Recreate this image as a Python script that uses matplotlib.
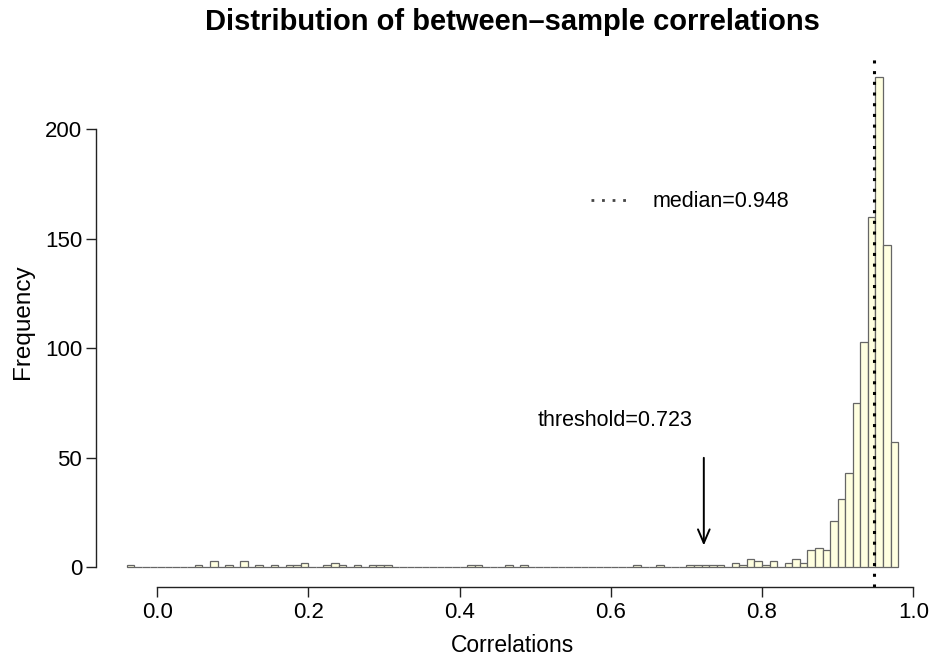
import numpy as np
import matplotlib
matplotlib.use("Agg")
import matplotlib.pyplot as plt
from matplotlib.lines import Line2D

plt.rcParams['font.family'] = ['Liberation Sans', 'DejaVu Sans']

# ---- data (bin width 0.01) ----
bin_lo, bin_hi, bin_w = -0.04, 0.98, 0.01
nonzero_bin_starts = [-0.04, 0.05, 0.07, 0.09, 0.11, 0.13, 0.15, 0.17, 0.18, 0.19,
                      0.22, 0.23, 0.24, 0.26, 0.28, 0.29, 0.30, 0.41, 0.42, 0.46,
                      0.48, 0.63, 0.66, 0.70, 0.71, 0.72, 0.73, 0.74, 0.76, 0.77,
                      0.78, 0.79, 0.80, 0.81, 0.83, 0.84, 0.85, 0.86, 0.87, 0.88,
                      0.89, 0.90, 0.91, 0.92, 0.93, 0.94, 0.95, 0.96, 0.97]
nonzero_counts = [1, 1, 3, 1, 3, 1, 1, 1, 1, 2,
                  1, 2, 1, 1, 1, 1, 1, 1, 1, 1,
                  1, 1, 1, 1, 1, 1, 1, 1, 2, 1,
                  4, 3, 1, 3, 2, 4, 2, 8, 9, 8,
                  21, 31, 43, 75, 103, 160, 224, 147, 57]
median_val = 0.948
threshold_val = 0.723
x_ticks = [0.0, 0.2, 0.4, 0.6, 0.8, 1.0]
x_tick_labels = ["0.0", "0.2", "0.4", "0.6", "0.8", "1.0"]
y_ticks = [0, 50, 100, 150, 200]

# full histogram table
n_bins = int(round((bin_hi - bin_lo) / bin_w))
edges = bin_lo + bin_w * np.arange(n_bins + 1)
counts = np.zeros(n_bins)
for s, c in zip(nonzero_bin_starts, nonzero_counts):
    counts[int(round((s - bin_lo) / bin_w))] = c

fig = plt.figure(figsize=(9.32, 6.61), dpi=100)
ax = fig.add_axes([96/932, 1 - 587/661, (929 - 96)/932, (587 - 57)/661])

ax.bar(edges[:-1], counts, width=bin_w, align='edge',
       color='#FFFFE0', edgecolor='#666666', linewidth=0.9)

span = bin_hi - bin_lo
ax.set_xlim(bin_lo - 0.04 * span, bin_hi + 0.04 * span)
ymax = counts.max()
ax.set_ylim(-0.04 * ymax, ymax * 1.04)

# median line
dot_style = (0, (1, 2.5))
ax.axvline(median_val, color='black', lw=2.2, linestyle=dot_style)

# legend
h = Line2D([], [], color='#444444', lw=2.0, linestyle=(0, (1, 2.8)))
leg = ax.legend([h], [f"median={median_val}"], loc='center left',
                bbox_to_anchor=(0.594, 0.727), frameon=False, fontsize=15.5,
                handlelength=1.9, handletextpad=0.95, borderpad=0, borderaxespad=0)

# threshold annotation
ax.annotate('', xy=(threshold_val, 10), xytext=(threshold_val, 50),
            arrowprops=dict(arrowstyle='->,head_length=0.7,head_width=0.3',
                            lw=1.4, color='black', mutation_scale=14,
                            shrinkA=0, shrinkB=0))
ax.text(0.606, 67, f"threshold={threshold_val}", ha='center', va='center', fontsize=15.5)

# R-style axes
for s in ['top', 'right']:
    ax.spines[s].set_visible(False)
ax.spines['left'].set_bounds(0, 200)
ax.spines['bottom'].set_bounds(0, 1)
for s in ['left', 'bottom']:
    ax.spines[s].set_linewidth(1.0)
    ax.spines[s].set_color('#222222')
ax.set_xticks(x_ticks)
ax.set_xticklabels(x_tick_labels)
ax.set_yticks(y_ticks)
ax.tick_params(axis='both', labelsize=16, length=7, width=1.0, color='#222222')
ax.tick_params(axis='y', pad=3)
ax.tick_params(axis='x', pad=4)

ax.set_xlabel("Correlations", fontsize=16.5, labelpad=8)
ax.set_ylabel("Frequency", fontsize=17.5, labelpad=8)
fig.suptitle("Distribution of between–sample correlations", fontsize=21,
             fontweight='bold', x=(96 + 929) / 2 / 932, y=1 - 8/661, va='top')

fig.savefig("out.png", dpi=100)
